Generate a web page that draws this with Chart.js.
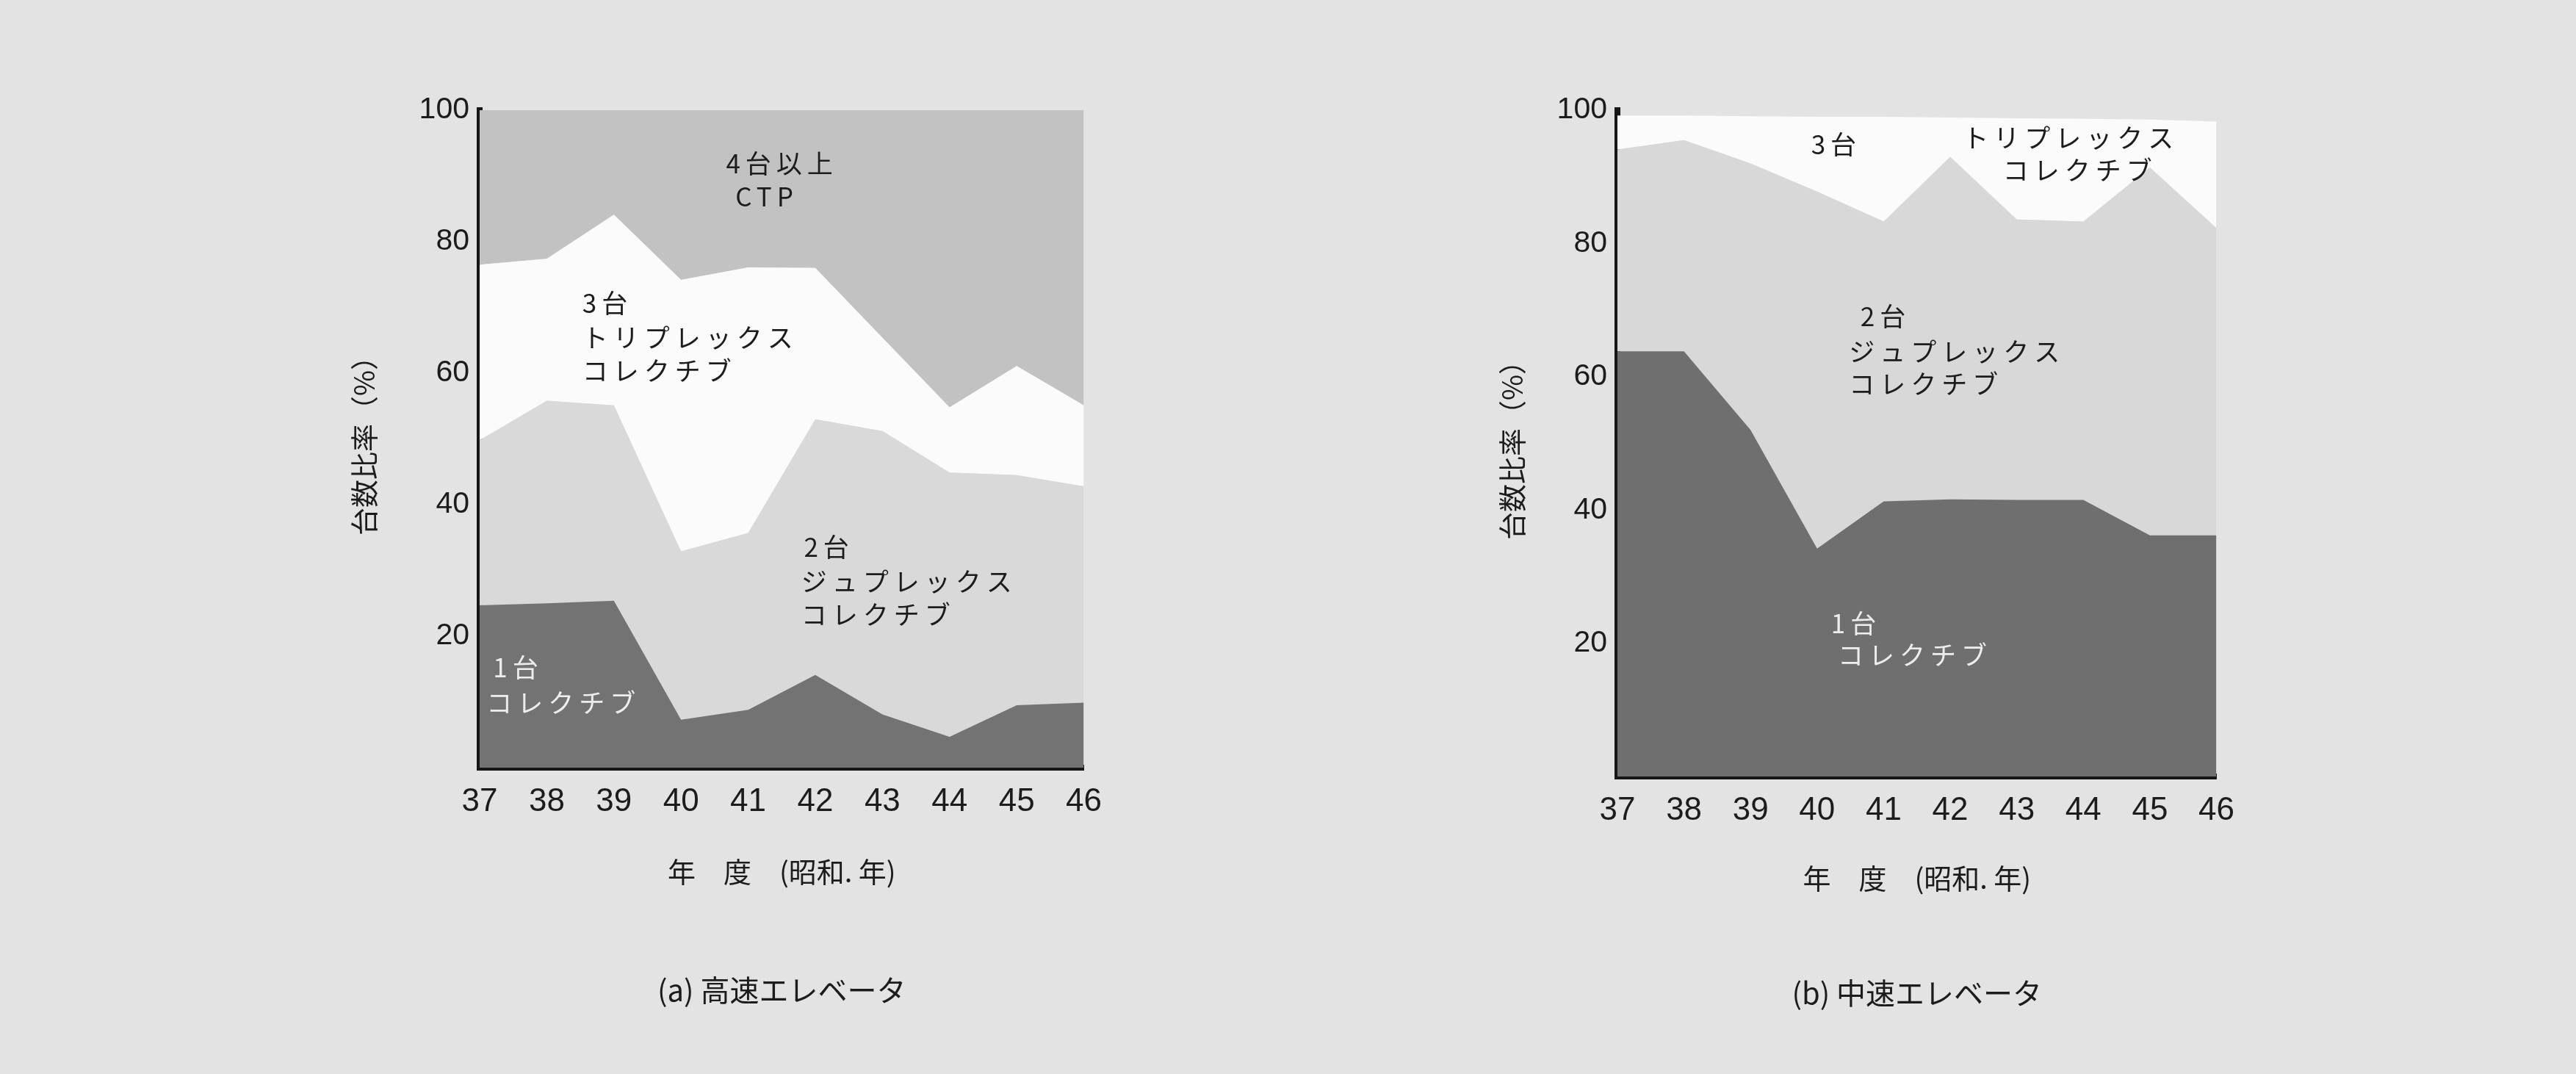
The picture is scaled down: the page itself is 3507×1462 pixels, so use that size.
<!DOCTYPE html>
<html>
<head>
<meta charset="utf-8">
<script src="https://cdn.jsdelivr.net/npm/chart.js@4.4.1/dist/chart.umd.min.js"></script>
<style>
  body { margin: 0; width: 3507px; height: 1462px; background: #e3e3e3; position: relative; overflow: hidden; }
  .box { position: absolute; }
  #boxA { left: 400px; top: 100px; width: 1120px; height: 1302px; }
  #boxB { left: 1949px; top: 100px; width: 1113px; height: 1306px; }
</style>
</head>
<body>
<div class="box" id="boxA"><canvas id="chartA"></canvas></div>
<div class="box" id="boxB"><canvas id="chartB"></canvas></div>
<script>
// 昭和37〜46年度
var years = ['37', '38', '39', '40', '41', '42', '43', '44', '45', '46'];
var yTicks = [20, 40, 60, 80, 100];

// (a) 高速エレベータ  台数比率 (%)
var highOne   = [24.7, 25.0, 25.4, 7.3, 8.8, 14.1, 8.1, 4.7, 9.5, 9.9];
var highTwo   = [25.1, 30.8, 29.7, 25.6, 26.9, 38.9, 43.1, 40.2, 35.0, 32.9];
var highThree = [26.7, 21.6, 29.0, 41.3, 40.4, 23.0, 14.2, 9.9, 16.6, 12.3];
var highFour  = [23.5, 22.6, 15.9, 25.8, 23.9, 24.0, 34.6, 45.2, 38.9, 44.9];

// (b) 中速エレベータ
var midOne   = [63.8, 63.8, 52.0, 34.2, 41.3, 41.6, 41.5, 41.5, 36.2, 36.2];
var midTwo   = [30.3, 31.7, 40.0, 53.6, 42.0, 51.4, 42.1, 41.8, 55.2, 46.1];
var midThree = [5.1, 3.7, 7.1, 11.2, 15.7, 5.9, 15.2, 15.4, 7.2, 16.0];

// labels inside the areas (x = year index, y = percent)
var highNotes = [
  { text: '4台以上', x: 3.67, y: 91.9 },
  { text: 'CTP', x: 3.81, y: 86.9 },
  { text: '3台', x: 1.53, y: 70.7 },
  { text: 'トリプレックス', x: 1.53, y: 65.4 },
  { text: 'コレクチブ', x: 1.53, y: 60.4 },
  { text: '2台', x: 4.83, y: 33.6 },
  { text: 'ジュプレックス', x: 4.79, y: 28.3 },
  { text: 'コレクチブ', x: 4.79, y: 23.3 },
  { text: '1台', x: 0.2, y: 15.2, light: true },
  { text: 'コレクチブ', x: 0.1, y: 9.9, light: true }
];
var midNotes = [
  { text: '3台', x: 2.91, y: 94.8 },
  { text: 'トリプレックス', x: 5.19, y: 95.8 },
  { text: 'コレクチブ', x: 5.79, y: 91.0 },
  { text: '2台', x: 3.65, y: 69.0 },
  { text: 'ジュプレックス', x: 3.48, y: 63.8 },
  { text: 'コレクチブ', x: 3.48, y: 58.9 },
  { text: '1台', x: 3.21, y: 23.0, light: true },
  { text: 'コレクチブ', x: 3.31, y: 18.2, light: true }
];

var jp = '"Noto Sans CJK JP", "Noto Sans", sans-serif';

var areaLabels = {
  id: 'areaLabels',
  afterDatasetsDraw: function(chart, args, opts) {
    var ctx = chart.ctx;
    var xs = chart.scales.x, ys = chart.scales.y;
    ctx.save();
    ctx.font = '35px ' + jp;
    ctx.letterSpacing = '7px';
    ctx.textAlign = 'left';
    ctx.textBaseline = 'middle';
    opts.items.forEach(function(n) {
      ctx.fillStyle = n.light ? '#ededed' : '#1c1c1c';
      ctx.fillText(n.text, xs.getPixelForValue(n.x), ys.getPixelForValue(n.y));
    });
    ctx.restore();
  }
};

function area(values, color, fill) {
  return {
    data: values,
    backgroundColor: color,
    borderWidth: 0,
    pointRadius: 0,
    fill: fill,
    tension: 0
  };
}

function makeChart(id, datasets, notes, caption, yTitlePad, xHeight, capPad) {
  return new Chart(document.getElementById(id), {
    type: 'line',
    data: { labels: years, datasets: datasets },
    options: {
      responsive: true,
      maintainAspectRatio: false,
      animation: false,
      layout: { padding: { left: 40, right: 40, top: 50, bottom: 20 } },
      plugins: {
        legend: { display: false },
        tooltip: { enabled: false },
        title: {
          display: true,
          position: 'bottom',
          fullSize: false,
          text: caption,
          color: '#1c1c1c',
          font: { family: jp, size: 40, weight: 'normal' },
          padding: { top: capPad, bottom: 10 }
        },
        areaLabels: { items: notes }
      },
      scales: {
        x: {
          type: 'category',
          offset: false,
          z: 1,
          grid: { display: false, drawTicks: false },
          border: { display: true, width: 8, color: '#161616' },
          ticks: {
            autoSkip: false, maxRotation: 0, padding: 20, color: '#1c1c1c',
            font: { family: '"Liberation Sans", Arial, sans-serif', size: 44 }
          },
          title: {
            display: true,
            text: '年　度　(昭和. 年)',
            color: '#1c1c1c',
            font: { family: jp, size: 38 },
            padding: { top: 0, bottom: 0 }
          },
          afterFit: function(s) { s.height = xHeight; }
        },
        y: {
          stacked: true,
          min: 0,
          max: 100,
          z: 1,
          grid: { display: false, drawTicks: false },
          border: { display: true, width: 8, color: '#161616' },
          ticks: {
            padding: 14, color: '#1c1c1c',
            font: { family: '"Liberation Sans", Arial, sans-serif', size: 41 }
          },
          afterBuildTicks: function(s) {
            s.ticks = yTicks.map(function(v) { return { value: v }; });
          },
          title: {
            display: true,
            text: '台数比率（%）',
            color: '#1c1c1c',
            font: { family: jp, size: 38 },
            padding: { top: yTitlePad, bottom: 0 }
          },
          afterFit: function(s) { s.width = 213; }
        }
      }
    },
    plugins: [areaLabels]
  });
}

makeChart('chartA', [
  area(highOne, '#737373', 'origin'),
  area(highTwo, '#d9d9d9', '-1'),
  area(highThree, '#fbfbfb', '-1'),
  area(highFour, '#c2c2c2', '-1')
], highNotes, '(a) 高速エレベータ', 33, 164, 115);

makeChart('chartB', [
  area(midOne, '#6f6f6f', 'origin'),
  area(midTwo, '#d8d8d8', '-1'),
  area(midThree, '#fbfbfb', '-1')
], midNotes, '(b) 中速エレベータ', 47, 161, 110);
</script>
</body>
</html>
